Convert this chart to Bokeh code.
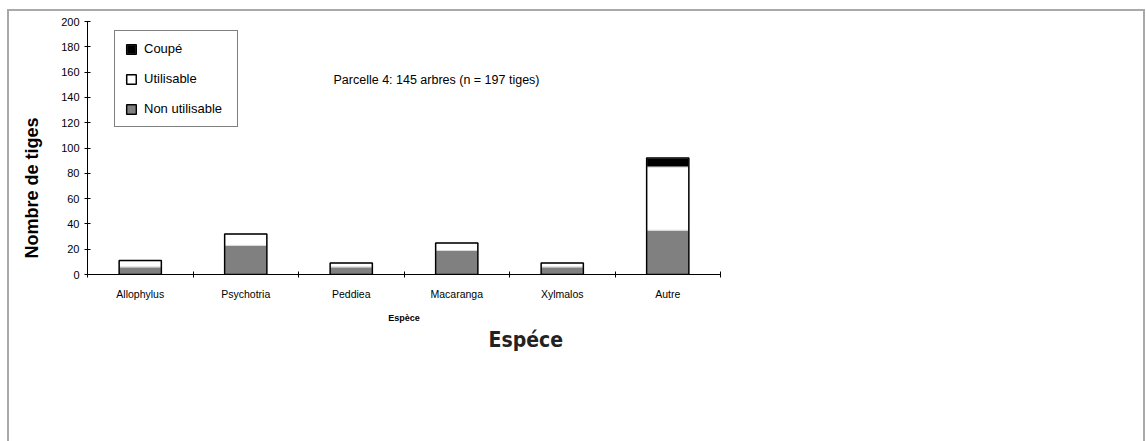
from bokeh.plotting import figure
from bokeh.models import (Range1d, LinearAxis, FixedTicker, Title,
                          ColumnDataSource, Legend, LegendItem, Label)
from bokeh.embed import file_html
from bokeh.resources import INLINE

species = ["Allophylus", "Psychotria", "Peddiea", "Macaranga", "Xylmalos", "Autre"]
non_utilisable = [6, 23, 6, 19, 6, 35]
utilisable = [5, 9, 3, 6, 3, 50]
coupe = [0, 0, 0, 0, 0, 7]
y_ticks = [0, 20, 40, 60, 80, 100, 120, 140, 160, 180, 200]
annotation_text = "Parcelle 4: 145 arbres (n = 197 tiges)"

n = len(species)
pos = [i + 0.5 for i in range(n)]  # category centres
total = [a + b + c for a, b, c in zip(non_utilisable, utilisable, coupe)]

src = ColumnDataSource(dict(x=pos, nu=non_utilisable, u=utilisable, c=coupe, total=total))

p = figure(x_range=Range1d(0, n), y_range=Range1d(0, 200),
           width=1146, height=441, output_backend="svg", toolbar_location=None,
           x_axis_location=None, min_border_left=87, min_border_right=426,
           min_border_top=21, min_border_bottom=167)
p.outline_line_color = None
p.xgrid.visible = False
p.ygrid.visible = False
p.background_fill_color = "white"
p.border_fill_color = None
G = "linear-gradient(#a9a9a9,#a9a9a9)"
p.styles = {"background": f"{G} 7px 9px / 2px 440px no-repeat, {G} 7px 9px / 1138px 2px no-repeat, "
                          f"{G} 1143px 9px / 2px 440px no-repeat, #ffffff"}

FONT = "Liberation Sans"
NARROW = "Liberation Sans Narrow, Arial Narrow, DejaVu Sans Condensed, Liberation Sans"

# y axis
ya = p.yaxis[0]
ya.ticker = FixedTicker(ticks=y_ticks)
ya.major_tick_in = 3
ya.major_tick_out = 3
ya.minor_tick_line_color = None
ya.major_label_standoff = 5
ya.major_label_text_font = FONT
ya.major_label_text_font_size = "11px"
ya.major_label_text_color = "black"
ya.axis_line_color = "black"
ya.major_tick_line_color = "black"

# x axis: tick marks at category boundaries (labels hidden)
tick_axis = LinearAxis(ticker=FixedTicker(ticks=list(range(n + 1))),
                       major_label_text_font_size="10px", major_label_text_color=None,
                       major_label_standoff=0,
                       major_tick_in=3, major_tick_out=3, minor_tick_line_color=None,
                       axis_line_color="black", major_tick_line_color="black")
lab_axis = LinearAxis(ticker=FixedTicker(ticks=pos),
                      major_label_overrides={x: s for x, s in zip(pos, species)},
                      major_tick_line_color=None, major_tick_in=0, major_tick_out=0,
                      minor_tick_line_color=None,
                      axis_line_color=None, major_label_standoff=10,
                      major_label_text_font=FONT, major_label_text_font_size="10.5px",
                      major_label_text_color="black",
                      axis_label="Espèce", axis_label_text_font=FONT,
                      axis_label_text_font_size="9px", axis_label_text_font_style="bold",
                      axis_label_standoff=10, axis_label_text_color="black")
# empty spacer axis (no line, no ticks)
spacer_axis = LinearAxis(ticker=FixedTicker(ticks=[]), major_tick_in=0, major_tick_out=78,
                         major_tick_line_color="white", minor_tick_line_color=None,
                         axis_line_color=None, major_label_text_color=None)
p.add_layout(tick_axis, "below")
p.add_layout(lab_axis, "below")
p.add_layout(spacer_axis, "below")

# stacked bars
r_nu, r_u, r_c = p.vbar_stack(["nu", "u", "c"], x="x", width=0.4, source=src,
                              color=["#808080", "#ffffff", "#000000"],
                              line_color="#d9d9d9", line_width=1)
r_out = p.vbar(x="x", top="total", width=0.4, source=src, fill_color=None,
               line_color="black", line_width=1.5)

legend = Legend(items=[LegendItem(label="Coupé", renderers=[r_c, r_out]),
                       LegendItem(label="Utilisable", renderers=[r_u, r_out]),
                       LegendItem(label="Non utilisable", renderers=[r_nu, r_out])],
                location=(27, 147), orientation="vertical",
                glyph_width=12, glyph_height=12, label_standoff=7,
                label_text_font=FONT, label_text_font_size="13px", label_text_color="black",
                label_height=15, label_width=83, spacing=15, padding=10, margin=0,
                border_line_color="black", border_line_width=1, background_fill_color="white")
p.add_layout(legend, "center")

# annotation
p.add_layout(Label(x=246, y=195, x_units="screen", y_units="screen", text=annotation_text,
                   text_font=FONT, text_font_size="12.5px", text_color="black",
                   text_baseline="alphabetic", text_align="left"))

# y axis title
p.add_layout(Title(text="Nombre de tiges", align="left", offset=16, standoff=34,
                   text_font=FONT, text_font_size="18px", text_font_style="bold",
                   text_color="black"), "left")

# big bottom title
p.add_layout(Title(text="Espéce", align="left", offset=401, standoff=4, vertical_align="top",
                   text_font=NARROW, text_font_size="21px", text_font_style="bold",
                   text_color="#222222"), "below")

open("out.html", "w").write(file_html(p, INLINE))
